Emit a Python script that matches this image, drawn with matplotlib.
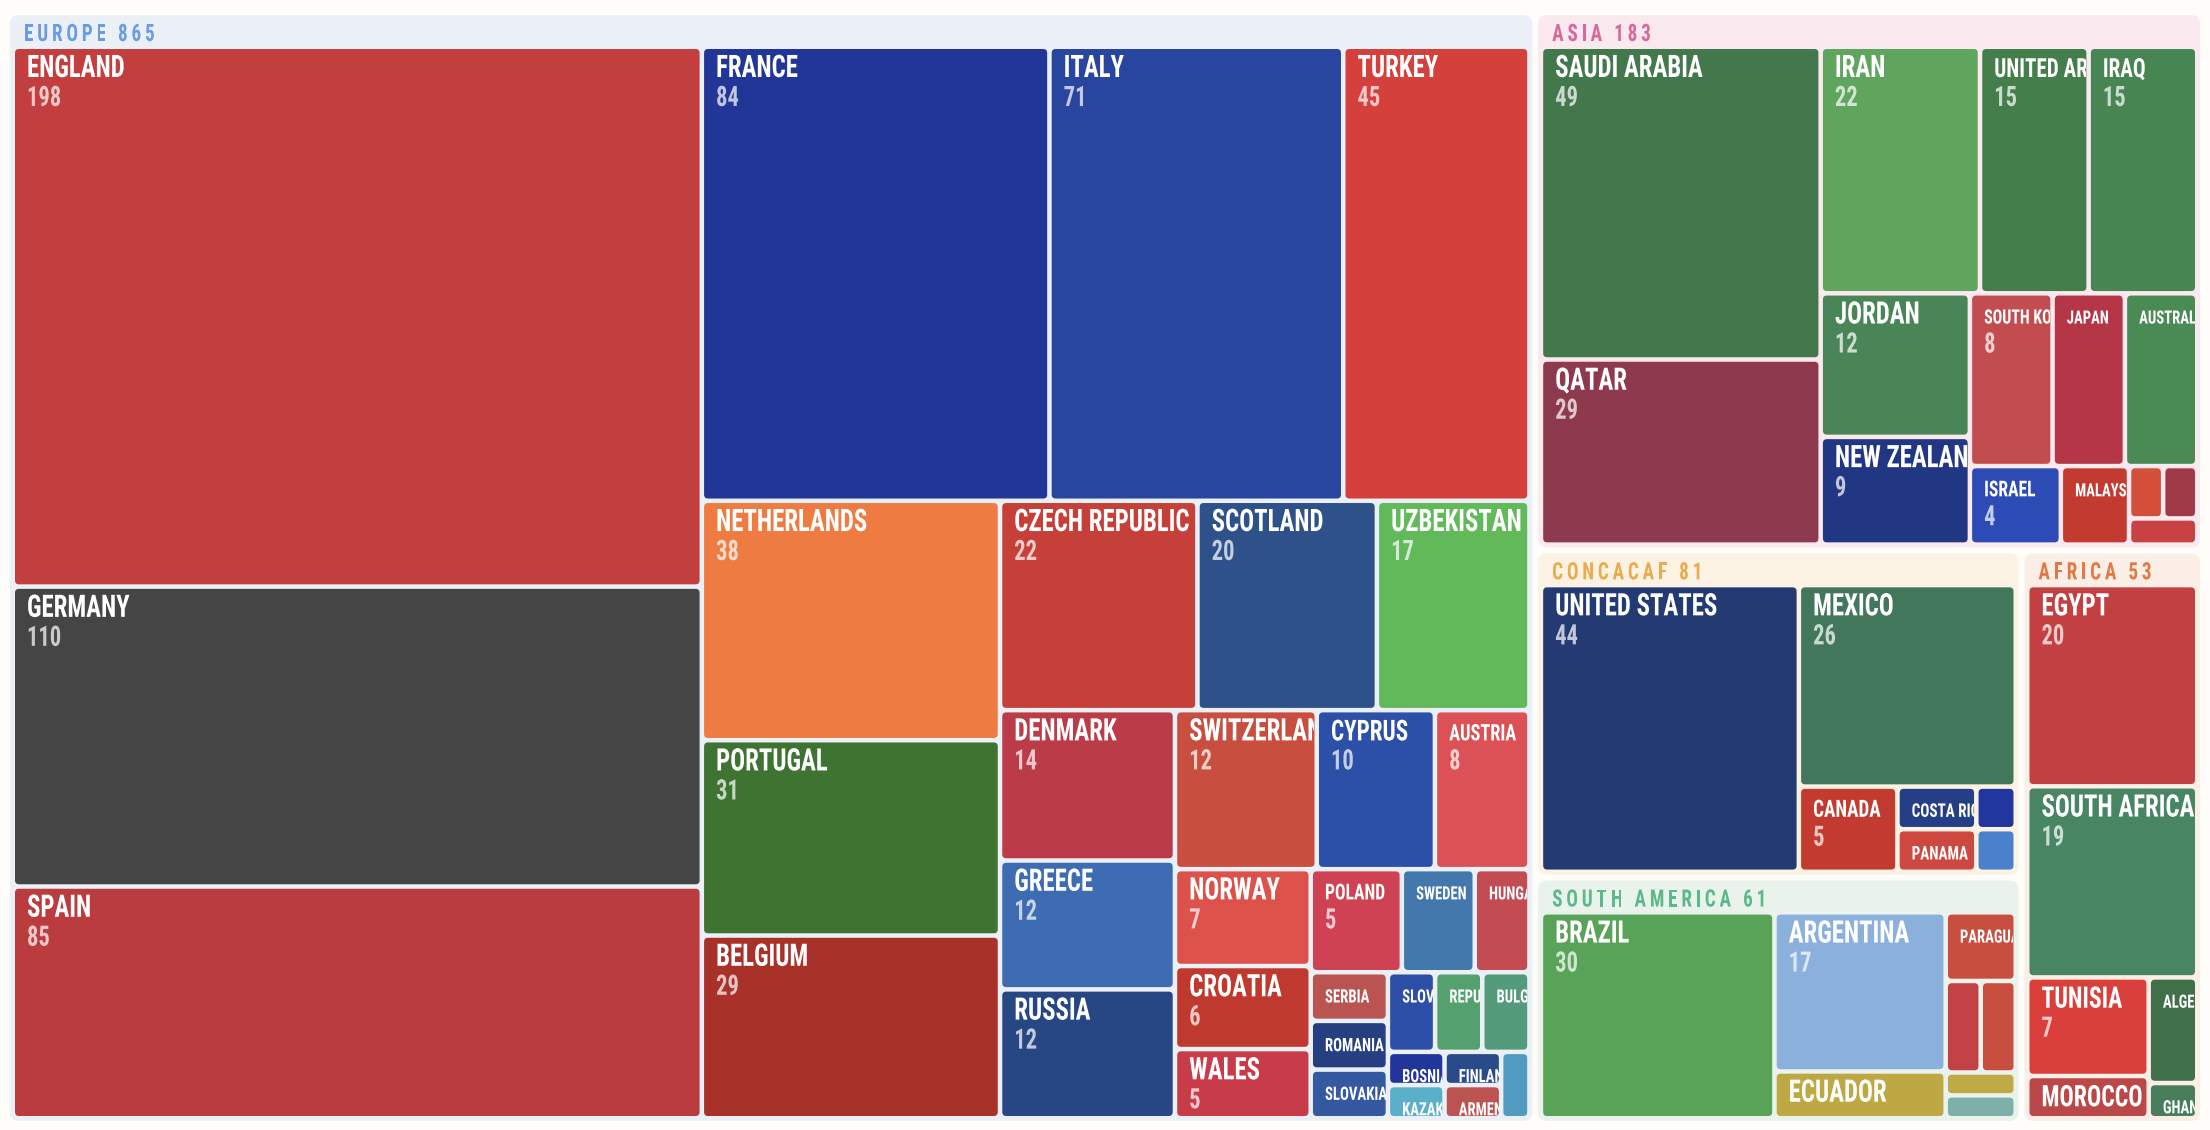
import os
import matplotlib
matplotlib.use('Agg')
from matplotlib import pyplot as plt
from matplotlib import font_manager, patheffects
from matplotlib.patches import FancyBboxPatch
from matplotlib.transforms import Bbox, Affine2D
from matplotlib.ft2font import FT2Font

# ---- data -----------------------------------------------------------------
regions = ['Europe', 'Asia', 'Concacaf', 'South America', 'Africa']

europe_teams = ['England', 'Germany', 'Spain', 'France', 'Italy', 'Turkey', 'Netherlands',
                'Portugal', 'Belgium', 'Czech Republic', 'Scotland', 'Uzbekistan', 'Denmark',
                'Greece', 'Russia', 'Switzerland', 'Cyprus', 'Austria', 'Norway', 'Croatia',
                'Wales', 'Poland', 'Sweden', 'Hungary', 'Serbia', 'Romania', 'Slovakia',
                'Slovenia', 'Republic of Ireland', 'Bulgaria', 'Bosnia', 'Kazakhstan',
                'Finland', 'Armenia', 'Iceland']
europe_values = [198, 110, 85, 84, 71, 45, 38, 31, 29, 22, 20, 17, 14, 12, 12, 12, 10, 8, 7, 6,
                 5, 5, 4, 3, 2, 2, 2, 2, 2, 2, 1, 1, 1, 1, 1]

asia_teams = ['Saudi Arabia', 'Qatar', 'Iran', 'United Arab Emirates', 'Iraq', 'Jordan',
              'New Zealand', 'South Korea', 'Japan', 'Australia', 'Israel', 'Malaysia',
              'China', 'Bahrain', 'Vietnam']
asia_values = [49, 29, 22, 15, 15, 12, 9, 8, 7, 7, 4, 3, 1, 1, 1]

concacaf_teams = ['United States', 'Mexico', 'Canada', 'Costa Rica', 'Panama', 'Honduras',
                  'Guatemala']
concacaf_values = [44, 26, 5, 2, 2, 1, 1]

samerica_teams = ['Brazil', 'Argentina', 'Ecuador', 'Paraguay', 'Chile', 'Peru', 'Colombia',
                  'Uruguay']
samerica_values = [30, 17, 5, 3, 2, 2, 1, 1]

africa_teams = ['Egypt', 'South Africa', 'Tunisia', 'Morocco', 'Algeria', 'Ghana']
africa_values = [20, 19, 7, 3, 3, 1]

# ---- styles ---------------------------------------------------------------
europe_colors = ['#c23e3f', '#454545', '#bb3c3e', '#213696', '#2845a0', '#d4403c', '#ee7c42',
                 '#3e7331', '#a83229', '#c6403a', '#2d5188', '#62b95a', '#bb3b48', '#3d6cb3',
                 '#264784', '#c84e3f', '#2c4fa8', '#dc5155', '#dc514a', '#c0392f', '#c73c48',
                 '#cf4253', '#4278ab', '#c24c51', '#b95451', '#263f80', '#3459a1', '#2d4ea6',
                 '#55a06f', '#539b7a', '#22359a', '#5ab0c8', '#294b89', '#bb5350', '#529bc0']
asia_colors = ['#43784c', '#8e3a4e', '#5fa55e', '#447e4a', '#478552', '#4a8557', '#223784',
               '#c24d51', '#b43647', '#4a8b55', '#2c4bb4', '#c23a30', '#d24f3a', '#a03a48',
               '#c84144']
concacaf_colors = ['#243a73', '#42775c', '#c33b30', '#243f85', '#cc4840', '#2236a0', '#4a80cc']
samerica_colors = ['#58a358', '#8bb0dc', '#bea843', '#c84e3f', '#c24144', '#c84e40', '#c0aa45',
                   '#7eb0aa']
africa_colors = ['#c34042', '#488563', '#d9403b', '#ba4848', '#3f704a', '#477d5a']

header_colors = ['#6a9be6', '#d9679b', '#e8ab4e', '#5cb98a', '#e07a45']
box_colors = ['#ebf0f6', '#fae9ee', '#fcf2e3', '#e9f3ec', '#fbeee6']

groups = [
    (europe_teams, europe_values, europe_colors),
    (asia_teams, asia_values, asia_colors),
    (concacaf_teams, concacaf_values, concacaf_colors),
    (samerica_teams, samerica_values, samerica_colors),
    (africa_teams, africa_values, africa_colors),
]

W, H = 2210, 1130
PHI = (1 + 5 ** 0.5) / 2
SQUEEZE = 0.8   # the reference uses a condensed face


def pick_font():
    prefs = ['NotoSans-ExtraCondensedBold', 'NotoSans-CondensedBold',
             'LiberationSansNarrow-Bold', 'RobotoCondensed-Bold', 'OpenSans-CondensedBold',
             'DejaVuSansCondensed-Bold', 'Roboto-Bold']
    files = [f.fname for f in font_manager.fontManager.ttflist]
    for p in prefs:
        for f in files:
            if os.path.basename(f).split('.')[0] == p:
                return f
    return font_manager.findfont(font_manager.FontProperties(family='DejaVu Sans',
                                                             weight='bold'))


FONT_FILE = pick_font()
_ft = FT2Font(FONT_FILE)
_ft.set_size(100, 72)
CAP = _ft.load_char(ord('H')).height / 64 / 100   # cap height per em


class Narrow(patheffects.AbstractPathEffect):
    """Squeeze glyphs horizontally about the text's start point."""

    def __init__(self, sx):
        super().__init__()
        self.sx = sx

    def draw_path(self, renderer, gc, tpath, affine, rgbFace=None):
        tx = affine.get_matrix()[0, 2]
        squeeze = Affine2D().translate(-tx, 0).scale(self.sx, 1).translate(tx, 0)
        renderer.draw_path(gc, tpath, affine + squeeze, rgbFace)


NARROW = [Narrow(SQUEEZE)]


def fprop(cap_px):
    return font_manager.FontProperties(fname=FONT_FILE, size=cap_px / CAP * 0.72)


def squarify(vals, x0, y0, x1, y1):
    """d3-style squarified layout (golden ratio)."""
    rects = []
    i0 = i1 = 0
    n = len(vals)
    value = float(sum(vals))
    while i0 < n:
        dx, dy = x1 - x0, y1 - y0
        s = vals[i1]
        i1 += 1
        vmin = vmax = s
        alpha = max(dy / dx, dx / dy) / (value * PHI)
        beta = s * s * alpha
        min_ratio = max(vmax / beta, beta / vmin)
        while i1 < n:
            v = vals[i1]
            s += v
            vmin = min(vmin, v)
            vmax = max(vmax, v)
            beta = s * s * alpha
            r = max(vmax / beta, beta / vmin)
            if r > min_ratio:
                s -= v
                break
            min_ratio = r
            i1 += 1
        row = vals[i0:i1]
        if dx < dy:
            yb = y0 + dy * s / value
            x = x0
            for v in row:
                rects.append((x, y0, x + (x1 - x0) * v / s, yb))
                x += (x1 - x0) * v / s
            y0 = yb
        else:
            xb = x0 + dx * s / value
            y = y0
            for v in row:
                rects.append((x0, y, xb, y + (y1 - y0) * v / s))
                y += (y1 - y0) * v / s
            x0 = xb
        value -= s
        i0 = i1
    return rects


def layout(vals, x0, y0, x1, y1, gap):
    p = gap / 2
    rects = squarify(vals, x0 - p, y0 - p, x1 + p, y1 + p)
    return [(a + p, b + p, c - p, d - p) for a, b, c, d in rects]


def clip_for(x0, y0, x1, y1):
    (a, b), (c, d) = ax.transData.transform([(x0, y0), (x1, y1)])
    return Bbox.from_extents(min(a, c), min(b, d), max(a, c), max(b, d))


def label(x, y, s, cap_px, box, alpha=1.0):
    t = ax.text(x, y, s, fontproperties=fprop(cap_px), color='white', alpha=alpha,
                va='baseline', ha='left', path_effects=NARROW)
    t.set_clip_on(True)
    t.set_clip_box(box)


def spaced_text(x, y, s, cap_px, color, track):
    fp = fprop(cap_px)
    font = FT2Font(FONT_FILE)
    font.set_size(fp.get_size_in_points(), 100)
    for ch in s:
        ax.text(x, y, ch, fontproperties=fp, color=color, va='baseline', ha='left',
                path_effects=NARROW)
        x += font.load_char(ord(ch)).linearHoriAdvance / 65536 * SQUEEZE + track


fig = plt.figure(figsize=(W / 100, H / 100), dpi=100, facecolor='#fefdf9')
ax = fig.add_axes([0, 0, 1, 1])
ax.set_xlim(0, W)
ax.set_ylim(H, 0)
ax.axis('off')

totals = [sum(g[1]) for g in groups]
boxes = layout(totals, 10, 15, 2200, 1121, 6)

for gi, (gx0, gy0, gx1, gy1) in enumerate(boxes):
    ax.add_patch(FancyBboxPatch((gx0, gy0), gx1 - gx0, gy1 - gy0,
                                boxstyle='round,pad=0,rounding_size=9',
                                fc=box_colors[gi], ec='none'))
    spaced_text(gx0 + 14, gy0 + 26, f'{regions[gi].upper()} {totals[gi]}',
                17, header_colors[gi], 3.8)

    teams, vals, cols = groups[gi]
    tiles = layout(vals, gx0 + 5, gy0 + 34, gx1 - 5, gy1 - 5, 4.5)
    for (x0, y0, x1, y1), team, v, c in zip(tiles, teams, vals, cols):
        w, h = x1 - x0, y1 - y0
        ax.add_patch(FancyBboxPatch((x0, y0), w, h, boxstyle='round,pad=0,rounding_size=4',
                                    fc=c, ec='none'))
        box = clip_for(x0, y0, x1, y1)
        if w > 40 and h > 22:
            cap = min(max(0.18 * w, 13), 22)
            label(x0 + 12, y0 + 28, team.upper(), cap, box)
        if w >= 72 and h >= 55:
            label(x0 + 12, y0 + 57, str(v), 20, box, alpha=0.72)

fig.savefig('out.png', dpi=100, facecolor=fig.get_facecolor())
